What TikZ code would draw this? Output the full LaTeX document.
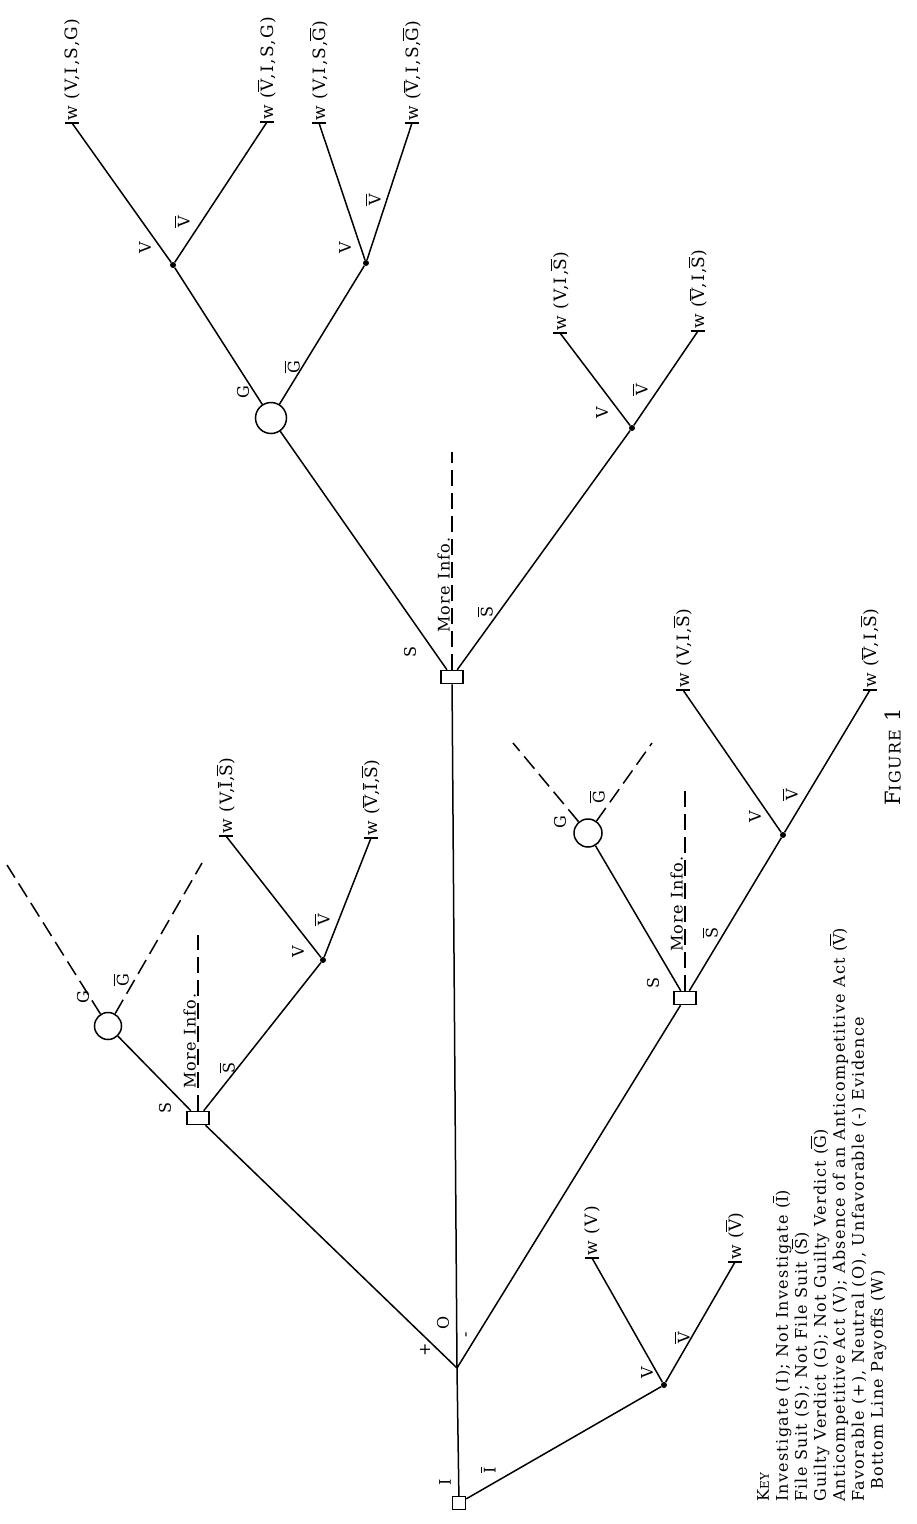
\documentclass[tikz,border=0pt]{standalone}
\usepackage{fontspec}
\setmainfont{DejaVu Serif}[LetterSpace=8]
\usepackage{amsmath}
\usetikzlibrary{calc}
\newcommand{\olin}[1]{\ensuremath{\overline{\mbox{#1}}}}
\tikzset{
  dbox/.style={rectangle, draw, line width=1.5pt, fill=white,
               minimum width=22pt, minimum height=13pt, inner sep=0pt},
  gcirc/.style={circle, draw, line width=1.5pt, minimum size=28pt, inner sep=0pt},
  cdot/.style={circle, fill, minimum size=6pt, inner sep=0pt},
  pay/.style={rotate=90, anchor=west, inner sep=2pt, font=\fontsize{17}{20}\selectfont},
  lab/.style={rotate=90, inner sep=0pt, font=\fontsize{16}{18}\selectfont},
  br/.style={line width=1.5pt},
  dsh/.style={line width=1.5pt, dash pattern=on 16pt off 7pt},
  tk/.style={line width=1.5pt},
}

\begin{document}
\begin{tikzpicture}[x=1pt, y=-1pt]
  \useasboundingbox (0,0) rectangle (917,1524);

  % Root and evidence
  \node[dbox, minimum width=13pt, minimum height=13pt] (d0) at (459,1503) {};
  \coordinate (e0) at (457,1368);
  \node[cdot] (c0) at (664,1385) {};
  \node[pay] (t01) at (592,1258) {w (V)};
  \node[pay] (t02) at (735,1262) {w (\olin{V})};

  % Favorable evidence
  \node[dbox] (d1) at (198,1118) {};
  \node[gcirc, minimum size=27pt] (g1) at (108,1026) {};
  \coordinate (g1a) at (7,865);
  \coordinate (g1b) at (202,863);
  \coordinate (m1) at (203,935);
  \node[cdot] (c1) at (323,960) {};
  \node[pay] (t11) at (226,836) {w (V,\olin{I},\olin{S})};
  \node[pay] (t12) at (371,838) {w (\olin{V},\olin{I},\olin{S})};

  % Neutral evidence
  \node[dbox] (d2) at (452,677) {};
  \node[gcirc, minimum size=31pt] (g2) at (271,418) {};
  \node[cdot] (c21) at (173,265) {};
  \node[cdot] (c22) at (366,263) {};
  \node[pay] (t21) at (72,123) {w (V,I,S,G)};
  \node[pay] (t22) at (267,122) {w (\olin{V},I,S,G)};
  \node[pay] (t23) at (319,123) {w (V,I,S,\olin{G})};
  \node[pay] (t24) at (412,123) {w (\olin{V},I,S,\olin{G})};
  \coordinate (m2) at (451,452);
  \node[cdot] (c23) at (632,428) {};
  \node[pay] (t25) at (560,333) {w (V,I,\olin{S})};
  \node[pay] (t26) at (698,331) {w (\olin{V},I,\olin{S})};

  % Unfavorable evidence
  \node[dbox] (d3) at (685,998) {};
  \node[gcirc] (g3) at (588,833) {};
  \coordinate (g3a) at (513,743);
  \coordinate (g3b) at (652,743);
  \coordinate (m3) at (682,790);
  \node[cdot] (c3) at (783,835) {};
  \node[pay] (t31) at (683,690) {w (V,I,\olin{S})};
  \node[pay] (t32) at (870,690) {w (\olin{V},I,\olin{S})};

  % Branches
  \draw[br] (d0) -- (e0) (d0) -- (c0);
  \draw[br] (e0) -- (d1) (e0) -- (d2) (e0) -- (d3);
  \draw[br] (c0) -- (t01.west) (c0) -- (t02.west);
  \draw[br] (d1) -- (g1) (d1) -- (c1);
  \draw[br] (c1) -- (t11.west) (c1) -- (t12.west);
  \draw[br] (d2) -- (g2) (d2) -- (c23);
  \draw[br] (g2) -- (c21) (g2) -- (c22);
  \draw[br] (c21) -- (t21.west) (c21) -- (t22.west);
  \draw[br] (c22) -- (t23.west) (c22) -- (t24.west);
  \draw[br] (c23) -- (t25.west) (c23) -- (t26.west);
  \draw[br] (d3) -- (g3) (d3) -- (c3);
  \draw[br] (c3) -- (t31.west) (c3) -- (t32.west);
  \foreach \t in {t01,t02,t11,t12,t21,t22,t23,t24,t25,t26,t31,t32}
    \draw[tk] ([xshift=-7pt]\t.west) -- ([xshift=7pt]\t.west);

  % Dashed continuations
  \draw[dsh] (g1) -- (g1a) (g1) -- (g1b);
  \draw[dsh] (g3) -- (g3a) (g3) -- (g3b);
  \draw[dsh] (d1.north) -- (d1.north |- m1);
  \draw[dsh] (d2.north) -- (d2.north |- m2);
  \draw[dsh] (d3.north) -- (d3.north |- m3);
  \node[lab, anchor=south west, inner sep=1pt] (mi1) at (197,1090) {More Info.};
  \node[lab, anchor=south west, inner sep=1pt] (mi2) at (451,634) {More Info.};
  \node[lab, anchor=south west, inner sep=1pt] (mi3) at (684,953) {More Info.};

  % Branch labels
  \node[lab] (lI) at (445,1482) {I};
  \node[lab] (lIn) at (488,1470) {\olin{I}};
  \node[lab] (lp) at (425,1350) {+};
  \node[lab] (lo) at (443,1323) {O};
  \node[lab] (lm) at (468,1335) {-};
  \node[lab] (lv0) at (647,1373) {V};
  \node[lab] (lvn0) at (682,1338) {\olin{V}};
  \node[lab] (ls1) at (165,1108) {S};
  \node[lab] (lsn1) at (227,1068) {\olin{S}};
  \node[lab] (lg1) at (83,997) {G};
  \node[lab] (lgn1) at (121,980) {\olin{G}};
  \node[lab] (lv1) at (298,952) {V};
  \node[lab] (lvn1) at (322,920) {\olin{V}};
  \node[lab] (ls2) at (410,652) {S};
  \node[lab] (lsn2) at (485,612) {\olin{S}};
  \node[lab] (lg2) at (243,392) {G};
  \node[lab] (lgn2) at (292,367) {\olin{G}};
  \node[lab] (lv21) at (145,248) {V};
  \node[lab] (lvn21) at (182,222) {\olin{V}};
  \node[lab] (lv22) at (345,248) {V};
  \node[lab] (lvn22) at (373,200) {\olin{V}};
  \node[lab] (lv23) at (602,413) {V};
  \node[lab] (lvn23) at (640,390) {\olin{V}};
  \node[lab] (ls3) at (653,983) {S};
  \node[lab] (lsn3) at (710,933) {\olin{S}};
  \node[lab] (lg3) at (560,822) {G};
  \node[lab] (lgn3) at (597,797) {\olin{G}};
  \node[lab] (lv3) at (755,817) {V};
  \node[lab] (lvn3) at (790,795) {\olin{V}};

  % Caption and key
  \node[lab, font=\fontsize{21}{22}\selectfont] (fig) at (893,757)
    {F{\fontsize{16}{18}\selectfont IGURE} 1};
  \node[rotate=90, anchor=north west, align=left, inner sep=0pt,
        font=\fontsize{16}{19}\selectfont] (key) at (757,1502)
    {K{\fontsize{12}{12}\selectfont EY}\\
     Investigate (I); Not Investigate (\olin{I})\\
     File Suit (S); Not File Suit (\olin{S})\\
     Guilty Verdict (G); Not Guilty Verdict (\olin{G})\\
     Anticompetitive Act (V); Absence of an Anticompetitive Act (\olin{V})\\
     Favorable (+), Neutral (O), Unfavorable (-) Evidence\\
     \hspace*{12pt}Bottom Line Payoffs (W)};
\end{tikzpicture}
\end{document}
